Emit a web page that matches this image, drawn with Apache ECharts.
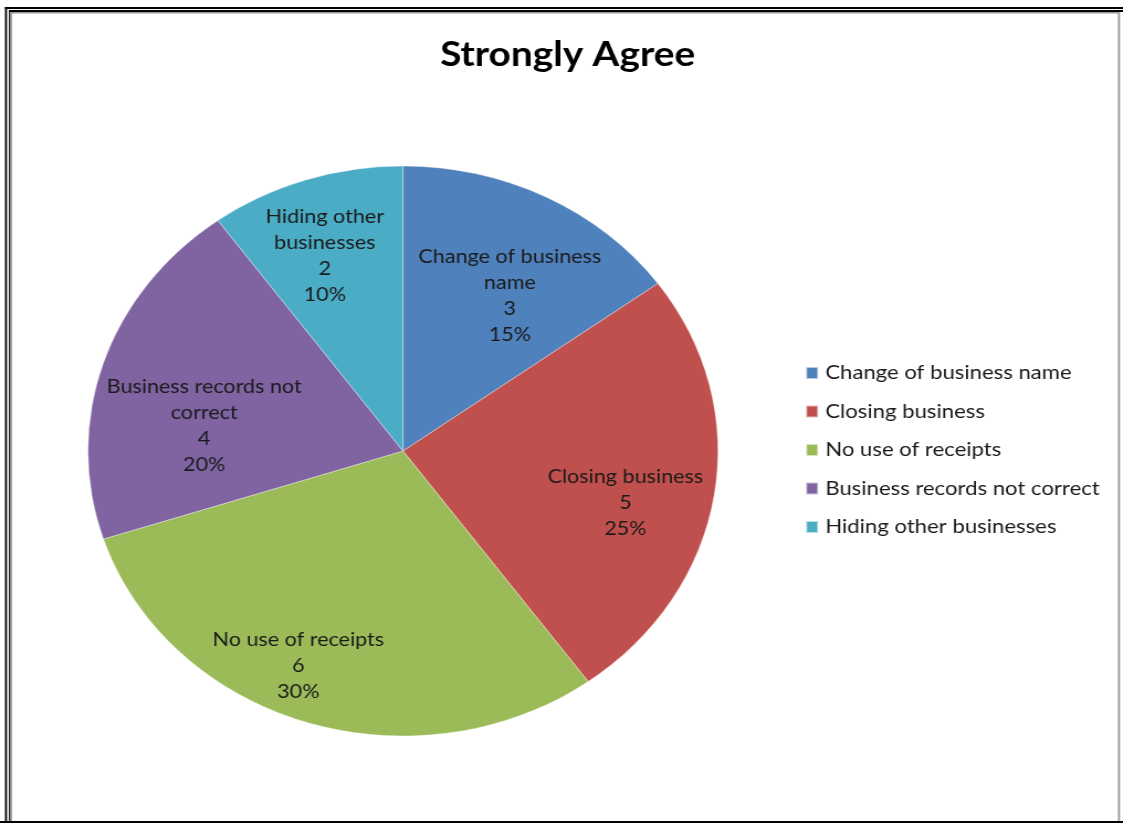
<!DOCTYPE html>
<html>
<head>
<meta charset="utf-8">
<script src="https://cdn.jsdelivr.net/npm/echarts@6/dist/echarts.min.js"></script>
<style>
  html, body { margin: 0; padding: 0; background: #fff; overflow: hidden; }
  #wrap { width: 1123px; height: 823px; position: relative; overflow: hidden; }
  #chart { position: absolute; left: 0; top: 0; height: 823px; transform-origin: 0 0; }
</style>
</head>
<body>
<div id="wrap"><div id="chart"></div></div>
<script>
// Survey responses: "Strongly Agree"
const categories = [
  'Change of business name',
  'Closing business',
  'No use of receipts',
  'Business records not correct',
  'Hiding other businesses'
];
// Category names as they wrap inside the slices
const wrappedNames = [
  'Change of business\nname',
  'Closing business',
  'No use of receipts',
  'Business records not\ncorrect',
  'Hiding other\nbusinesses'
];
const counts = [3, 5, 6, 4, 2];
const colors = ['#4F81BD', '#C0504D', '#9BBB59', '#8064A2', '#4BACC6'];
// small nudges [dx, dy] of each in-slice label away from its default spot
const labelNudge = [[6, 23], [4, 20], [-33, 25], [10, 36], [-9, -5]];

// The chart is laid out narrower and stretched horizontally so the pie becomes an ellipse
const S = 315 / 285;
const W = 1123 / S;
const chartEl = document.getElementById('chart');
chartEl.style.width = W + 'px';
chartEl.style.transform = 'scaleX(' + S + ')';

const FONT = 'Lato, "Open Sans", sans-serif';
const cx = 403 / S, cy = 451, R = 285;

const pieData = categories.map((name, i) => ({
  name: name,
  value: counts[i],
  itemStyle: { color: colors[i] }
}));

// frame lines: [x, y, w, h, color] in screen pixels
const frame = [
  [5, 7, 1118, 2, '#000'],
  [5, 7, 2, 816, '#000'],
  [9, 10, 1114, 2, '#000'],
  [9, 10, 1.5, 813, '#000'],
  [10.5, 12, 1108, 1.5, '#999'],
  [10.5, 12, 1.5, 811, '#999'],
  [1118, 12, 2, 811, '#999'],
  [0, 821, 1123, 2, '#000']
];

const chart = echarts.init(chartEl, null, { renderer: 'canvas' });
chart.setOption({
  backgroundColor: '#fff',
  animation: false,
  title: {
    text: 'Strongly Agree',
    left: 562 / S,
    textAlign: 'center',
    top: 32,
    textStyle: { fontFamily: FONT, fontSize: 35, fontWeight: 'bold', color: '#000' }
  },
  legend: {
    orient: 'vertical',
    left: 805 / S,
    top: 363,
    padding: 0,
    itemWidth: 12 / S,
    itemHeight: 12,
    itemGap: 18.5,
    icon: 'rect',
    data: categories,
    textStyle: { fontFamily: FONT, fontSize: 20, lineHeight: 20, color: '#1a1a1a', padding: [0, 0, 0, 1.5] }
  },
  graphic: frame.map(f => ({
    type: 'rect',
    silent: true,
    shape: { x: f[0] / S, y: f[1], width: f[2] / S, height: f[3] },
    style: { fill: f[4] }
  })),
  series: [
    {
      type: 'pie',
      center: [cx, cy],
      radius: [0, R],
      startAngle: 90,
      clockwise: true,
      avoidLabelOverlap: false,
      label: { show: false },
      labelLine: { show: false },
      itemStyle: { borderColor: 'rgba(255,255,255,0.6)', borderWidth: 0.6 },
      emphasis: { disabled: true },
      data: pieData
    },
    {
      // transparent ring that only carries the in-slice labels
      type: 'pie',
      center: [cx, cy],
      radius: [R * 0.4, R * 0.98],
      startAngle: 90,
      clockwise: true,
      silent: true,
      avoidLabelOverlap: false,
      itemStyle: { color: 'rgba(0,0,0,0)' },
      labelLine: { show: false },
      label: {
        show: true,
        position: 'inside',
        fontFamily: FONT,
        fontSize: 19.5,
        lineHeight: 26,
        color: '#1a1a1a',
        align: 'center',
        formatter: p => wrappedNames[p.dataIndex] + '\n' + p.value + '\n' + Math.round(p.percent) + '%'
      },
      labelLayout: p => ({ dx: labelNudge[p.dataIndex][0], dy: labelNudge[p.dataIndex][1] }),
      emphasis: { disabled: true },
      data: categories.map((name, i) => ({ name: name, value: counts[i] })),
      legendHoverLink: false
    }
  ]
});
</script>
</body>
</html>
